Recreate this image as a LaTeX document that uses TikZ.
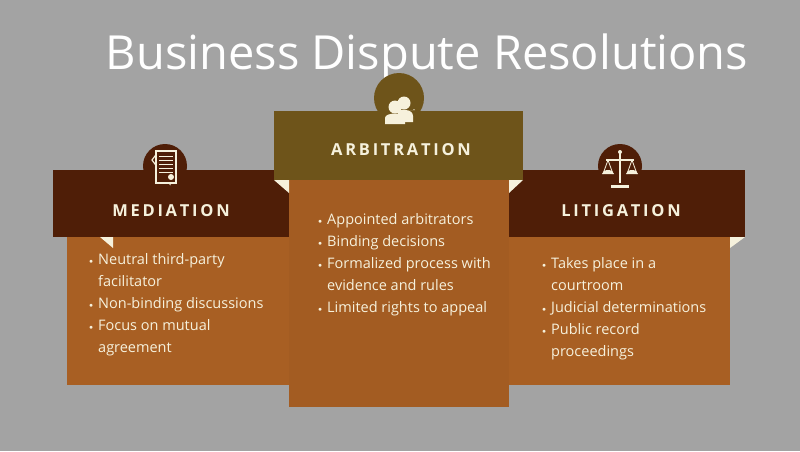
\documentclass[tikz,border=0pt]{standalone}
\usepackage{fontspec}
\setmainfont{Open Sans}
\usepackage{enumitem}
\definecolor{bg}{HTML}{A3A3A3}
\definecolor{dbrown}{HTML}{4F1E07}
\definecolor{olive}{HTML}{6E541A}
\definecolor{body}{HTML}{A85F23}
\definecolor{cream}{HTML}{F6F1DC}
\newcommand{\blist}[1]{\begin{minipage}{210pt}\fontsize{14.5}{22}\selectfont\color{cream}\begin{itemize}[leftmargin=14pt,itemsep=0pt,topsep=0pt,parsep=0pt,label={\raisebox{1pt}{\scriptsize$\bullet$}}]#1\end{itemize}\end{minipage}}
\begin{document}
\begin{tikzpicture}[x=1pt,y=-1pt,
  hdr/.style={font=\fontsize{16.5}{18}\selectfont\bfseries,text=cream},
  fold/.style={fill=cream},
  ic/.style={draw=cream,line width=1.2pt}]
\useasboundingbox (0,0) rectangle (800,451);
\fill[bg] (0,0) rectangle (800,451);
\node[text=white,font=\fontsize{47}{50}\selectfont] (title) at (427,57) {Business Dispute Resolutions};
% mediation
\fill[dbrown] (165,166) circle (22);
\fill[dbrown] (53,170) rectangle (290,237);
\fill[body] (67,237) rectangle (289,385);
\fill[fold] (100,237) -- (113,237) -- (113,248) -- cycle;
% litigation
\fill[dbrown] (620,166) circle (22);
\fill[dbrown] (509,170) rectangle (745,237);
\fill[body] (509,237) rectangle (730,385);
\fill[fold] (745,237) -- (730,237) -- (730,248) -- cycle;
% arbitration
\fill[olive] (399,98) circle (25);
\fill[olive] (274,111) rectangle (523,180);
\fill[body!97!black] (289,180) rectangle (509,407);
\fill[fold] (274,180) -- (289,180) -- (289,193) -- cycle;
\fill[fold] (523,180) -- (509,180) -- (509,193) -- cycle;
\node[hdr] (mh) at (171,211) {M\,E\,D\,I\,A\,T\,I\,O\,N};
\node[hdr] (ah) at (401,150) {A\,R\,B\,I\,T\,R\,A\,T\,I\,O\,N};
\node[hdr] (lh) at (621,211) {L\,I\,T\,I\,G\,A\,T\,I\,O\,N};
% icons
% document
\draw[ic,fill=dbrown] (152,160) -- (158,152) -- (174,156) -- (170,184)--cycle;
\draw[ic,fill=dbrown] (156,151) rectangle (176,183);
\foreach \yy in {156,160,...,172} \draw[cream,line width=1pt] (159,\yy) -- (173,\yy);
\fill[cream] (171,177) circle (3);
% people
\fill[cream] (404,103) circle (6.5);
\fill[cream] (395,110) -- (413,110) arc (0:180:-1) -- cycle;
\fill[cream] (398,110) .. controls (399,110) and (413,108) .. (413,116) -- (413,122) -- (398,122) -- cycle;
\fill[cream] (395,107) circle (6.5);
\fill[cream] (385,124) -- (385,118) .. controls (385,112) and (405,112) .. (405,118) -- (405,124) -- cycle;
% scales
\draw[cream,line width=1.5pt] (620,153) -- (620,183);
\draw[cream,line width=1.5pt] (606,160) -- (634,160);
\fill[cream] (611,185) rectangle (629,188);
\draw[cream,line width=0.8pt] (608,160) -- (603,174) (608,160) -- (613,174) (632,160) -- (627,174) (632,160) -- (637,174);
\fill[cream] (602,174) arc (180:360:6 and 4) -- cycle;
\fill[cream] (626,174) arc (180:360:6 and 4) -- cycle;
\fill[cream] (620,152) circle (2);
% lists
\node[anchor=north west,inner sep=0] (ml) at (84,253) {\blist{\item Neutral third-party\\ facilitator \item Non-binding discussions \item Focus on mutual\\ agreement}};
\node[anchor=north west,inner sep=0] (al) at (313,213) {\blist{\item Appointed arbitrators \item Binding decisions \item Formalized process with\\ evidence and rules \item Limited rights to appeal}};
\node[anchor=north west,inner sep=0] (ll) at (537,257) {\blist{\item Takes place in a\\ courtroom \item Judicial determinations \item Public record\\ proceedings}};
\end{tikzpicture}
\end{document}
